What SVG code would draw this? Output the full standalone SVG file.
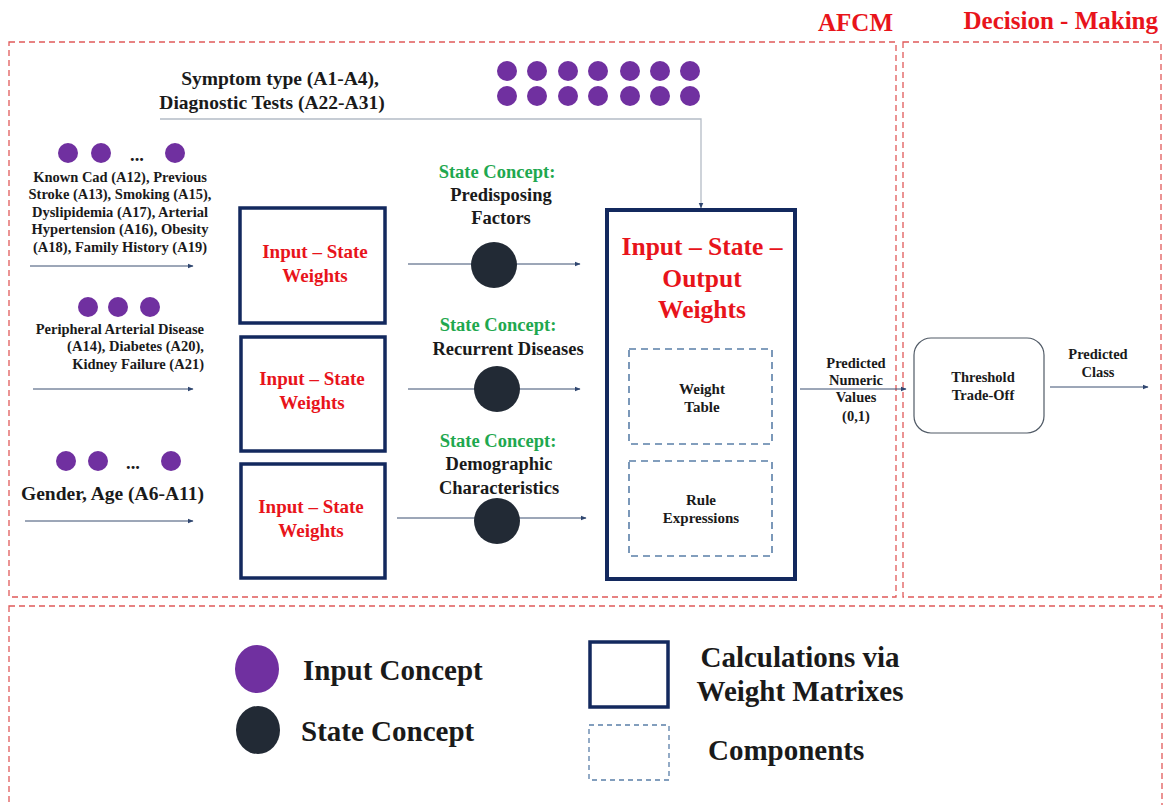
<svg xmlns="http://www.w3.org/2000/svg" width="1169" height="805" viewBox="0 0 1169 805">
<defs>
<marker id="ah" viewBox="0 0 10 10" refX="9" refY="5" markerWidth="6" markerHeight="6" orient="auto" markerUnits="userSpaceOnUse"><path d="M0,1 L10,5 L0,9 z" fill="#2f4670"/></marker>
<style>
text{font-family:"Liberation Serif","Times New Roman",serif;font-weight:bold;fill:#1a1a1a}
.t{font-size:25px;fill:#e8141b}
.red{fill:#e8141b}
.grn{fill:#1fa84f}
.s15{font-size:15px}
.s14{font-size:14.5px}
.s16{font-size:19.5px}
.s17{font-size:19px}
.s18{font-size:18.5px}
.s25{font-size:25.5px}
.sl{font-size:29px}
.reg{fill:none;stroke:#e05a5a;stroke-width:1.3;stroke-dasharray:6,4}
.in{fill:#7030a0}
.st{fill:#222a35}
.wbox{fill:#fff;stroke:#13295e;stroke-width:3.5}
.comp{fill:none;stroke:#5a7fa8;stroke-width:1.6;stroke-dasharray:7,5}
.ln{fill:none;stroke:#3a4f70;stroke-width:1;marker-end:url(#ah)}
</style>
</defs>
<rect width="1169" height="805" fill="#fff"/>

<g id="regions">
<rect class="reg" x="9" y="42" width="887" height="555"/>
<rect class="reg" x="903" y="42" width="258" height="555"/>
<rect class="reg" x="9" y="606" width="1153" height="205"/>
<text class="t" x="893" y="31" text-anchor="end">AFCM</text>
<text class="t" x="1158" y="29" text-anchor="end">Decision - Making</text>
</g>

<g id="connectors">
<path d="M160,119 H701 V208" fill="none" stroke="#b4bcc6" stroke-width="1.3" marker-end="url(#ah)"/>
<path class="ln" d="M30,266 H193"/>
<path class="ln" d="M33,389 H193"/>
<path class="ln" d="M25,521 H193"/>
<path class="ln" d="M408,264 H580"/>
<path class="ln" d="M408,389 H580"/>
<path class="ln" d="M397,518 H586"/>
<path class="ln" d="M800,389 H906"/>
<path class="ln" d="M1050,387 H1148"/>
</g>

<g id="input-top">
<circle class="in" cx="507" cy="71" r="10"/><circle class="in" cx="537" cy="71" r="10"/><circle class="in" cx="568" cy="71" r="10"/><circle class="in" cx="598" cy="71" r="10"/><circle class="in" cx="630" cy="71" r="10"/><circle class="in" cx="660" cy="71" r="10"/><circle class="in" cx="690" cy="71" r="10"/>
<circle class="in" cx="507" cy="96" r="10"/><circle class="in" cx="537" cy="96" r="10"/><circle class="in" cx="568" cy="96" r="10"/><circle class="in" cx="598" cy="96" r="10"/><circle class="in" cx="630" cy="96" r="10"/><circle class="in" cx="660" cy="96" r="10"/><circle class="in" cx="690" cy="96" r="10"/>
<text class="s16" x="280" y="85" text-anchor="middle">Symptom type (A1-A4),</text>
<text class="s16" x="272" y="109" text-anchor="middle">Diagnostic Tests (A22-A31)</text>
</g>

<g id="input-predisposing">
<circle class="in" cx="68" cy="153" r="10"/><circle class="in" cx="101" cy="153" r="10"/><circle class="in" cx="175" cy="153" r="10"/>
<text class="s18" x="137" y="161" text-anchor="middle">...</text>
<text class="s14" x="120" y="182" text-anchor="middle">Known Cad (A12), Previous</text>
<text class="s14" x="120" y="199" text-anchor="middle">Stroke (A13), Smoking (A15),</text>
<text class="s14" x="120" y="217" text-anchor="middle">Dyslipidemia (A17), Arterial</text>
<text class="s14" x="120" y="234" text-anchor="middle">Hypertension (A16), Obesity</text>
<text class="s14" x="120" y="252" text-anchor="middle">(A18), Family History (A19)</text>
</g>

<g id="input-recurrent">
<circle class="in" cx="88" cy="307" r="10"/><circle class="in" cx="118" cy="307" r="10"/><circle class="in" cx="150" cy="307" r="10"/>
<text class="s14" x="204" y="334" text-anchor="end">Peripheral Arterial Disease</text>
<text class="s14" x="204" y="351" text-anchor="end">(A14), Diabetes (A20),</text>
<text class="s14" x="204" y="369" text-anchor="end">Kidney Failure (A21)</text>
</g>

<g id="input-demographic">
<circle class="in" cx="66" cy="461" r="10"/><circle class="in" cx="98" cy="461" r="10"/><circle class="in" cx="171" cy="461" r="10"/>
<text class="s18" x="133" y="469" text-anchor="middle">...</text>
<text class="s16" x="21" y="500">Gender, Age (A6-A11)</text>
</g>

<g id="is-weights-1">
<rect class="wbox" x="240" y="208" width="145" height="115"/>
<text class="s17 red" x="315" y="258" text-anchor="middle">Input – State</text>
<text class="s17 red" x="315" y="282" text-anchor="middle">Weights</text>
</g>
<g id="is-weights-2">
<rect class="wbox" x="241" y="337" width="144" height="114"/>
<text class="s17 red" x="312" y="385" text-anchor="middle">Input – State</text>
<text class="s17 red" x="312" y="409" text-anchor="middle">Weights</text>
</g>
<g id="is-weights-3">
<rect class="wbox" x="241" y="464" width="144" height="114"/>
<text class="s17 red" x="311" y="513" text-anchor="middle">Input – State</text>
<text class="s17 red" x="311" y="537" text-anchor="middle">Weights</text>
</g>

<g id="state-predisposing">
<text class="s18 grn" x="497" y="178" text-anchor="middle">State Concept:</text>
<text class="s18" x="501" y="201" text-anchor="middle">Predisposing</text>
<text class="s18" x="501" y="224" text-anchor="middle">Factors</text>
<ellipse class="st" cx="494" cy="265" rx="23" ry="23"/>
</g>
<g id="state-recurrent">
<text class="s18 grn" x="498" y="331" text-anchor="middle">State Concept:</text>
<text class="s18" x="508" y="355" text-anchor="middle">Recurrent Diseases</text>
<ellipse class="st" cx="497" cy="389" rx="23" ry="23"/>
</g>
<g id="state-demographic">
<text class="s18 grn" x="498" y="447" text-anchor="middle">State Concept:</text>
<text class="s18" x="499" y="470" text-anchor="middle">Demographic</text>
<text class="s18" x="499" y="494" text-anchor="middle">Characteristics</text>
<ellipse class="st" cx="497" cy="521" rx="23" ry="23"/>
</g>

<g id="iso-weights">
<rect class="wbox" x="607" y="210" width="188" height="369" style="stroke-width:4"/>
<text class="s25 red" x="702" y="255" text-anchor="middle">Input – State –</text>
<text class="s25 red" x="702" y="287" text-anchor="middle">Output</text>
<text class="s25 red" x="702" y="318" text-anchor="middle">Weights</text>
</g>
<g id="weight-table">
<rect class="comp" x="629" y="349" width="143" height="95"/>
<text class="s15" x="702" y="394" text-anchor="middle">Weight</text>
<text class="s15" x="702" y="412" text-anchor="middle">Table</text>
</g>
<g id="rule-expressions">
<rect class="comp" x="629" y="461" width="143" height="95"/>
<text class="s15" x="701" y="505" text-anchor="middle">Rule</text>
<text class="s15" x="701" y="523" text-anchor="middle">Expressions</text>
</g>

<g id="predicted-values">
<text class="s14" x="856" y="368" text-anchor="middle">Predicted</text>
<text class="s14" x="856" y="385" text-anchor="middle">Numeric</text>
<text class="s14" x="856" y="402" text-anchor="middle">Values</text>
<text class="s14" x="856" y="421" text-anchor="middle">(0,1)</text>
</g>

<g id="threshold">
<rect x="914" y="338" width="130" height="95" rx="17" fill="#fff" stroke="#505a66" stroke-width="1.2"/>
<text class="s14" x="983" y="382" text-anchor="middle">Threshold</text>
<text class="s14" x="983" y="400" text-anchor="middle">Trade-Off</text>
</g>
<g id="predicted-class">
<text class="s14" x="1098" y="359" text-anchor="middle">Predicted</text>
<text class="s14" x="1098" y="377" text-anchor="middle">Class</text>
</g>

<g id="legend">
<ellipse class="in" cx="257" cy="669" rx="22" ry="24"/>
<text class="sl" x="303" y="680">Input Concept</text>
<ellipse class="st" cx="258" cy="730" rx="22" ry="24"/>
<text class="sl" x="301" y="741">State Concept</text>
<rect class="wbox" x="590" y="642" width="78" height="65"/>
<text class="sl" x="800" y="667" text-anchor="middle">Calculations via</text>
<text class="sl" x="800" y="701" text-anchor="middle">Weight Matrixes</text>
<rect class="comp" x="589" y="725" width="80" height="55" style="stroke-width:1.3;stroke-dasharray:5,4"/>
<text class="sl" x="708" y="760">Components</text>
</g>
</svg>
